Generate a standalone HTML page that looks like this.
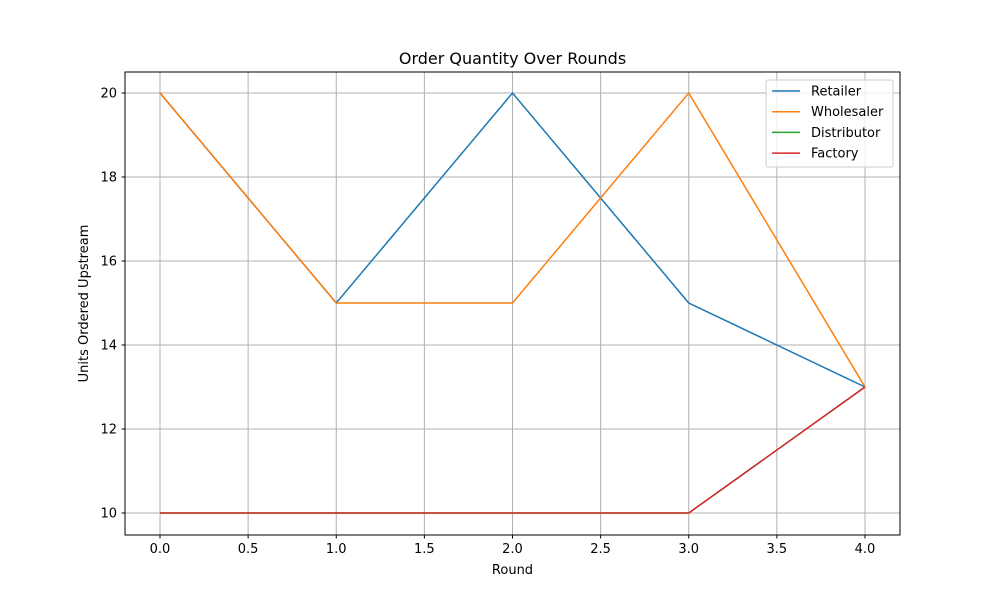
<!DOCTYPE html>
<html><head><meta charset="utf-8"><style>
body{margin:0;background:#fff;}
svg text{font-family:"DejaVu Sans","Liberation Sans",sans-serif;fill:#000;}
</style></head><body>
<svg width="1000" height="600" xmlns="http://www.w3.org/2000/svg">
<rect width="1000" height="600" fill="#fff"/>
<text x="512.5" y="64" font-size="16" text-anchor="middle">Order Quantity Over Rounds</text>
<g id="grid"></g>
<g id="series"></g>
<rect x="125" y="72" width="775" height="463" fill="none" stroke="#000" stroke-width="1"/>
<g id="ticks"></g>
<text x="512.5" y="574" font-size="13" text-anchor="middle">Round</text>
<text transform="translate(88,303.5) rotate(-90)" font-size="13" text-anchor="middle">Units Ordered Upstream</text>
<g id="legend"></g>
</svg>
<script>
const rounds=[0,1,2,3,4];
const seriesNames=["Retailer","Wholesaler","Distributor","Factory"];
const retailer=[20,15,20,15,13];
const wholesaler=[20,15,15,20,13];
const distributor=[10,10,10,10,13];
const factory=[10,10,10,10,13];
const xTicks=[0,0.5,1,1.5,2,2.5,3,3.5,4];
const yTicks=[10,12,14,16,18,20];
const colors=["#1f77b4","#ff7f0e","#2ca02c","#d62728"];
const NS="http://www.w3.org/2000/svg";
const xs=v=>160+v*176.25;
const ys=v=>513-(v-10)*42;
function mk(t,a,p){const e=document.createElementNS(NS,t);for(const k in a)e.setAttribute(k,a[k]);p.appendChild(e);return e;}
const grid=document.getElementById('grid'),ticks=document.getElementById('ticks');
xTicks.forEach(v=>{
 const g=mk('line',{x1:xs(v),x2:xs(v),y1:72,y2:535,stroke:'#b0b0b0','stroke-width':1},grid);
 
 
 mk('line',{x1:xs(v),x2:xs(v),y1:535,y2:538.5,stroke:'#000'},ticks);
 const t=mk('text',{x:xs(v),y:553,'font-size':13,'text-anchor':'middle'},ticks);t.textContent=v.toFixed(1);
 
 
});
yTicks.forEach(v=>{
 const g=mk('line',{x1:125,x2:900,y1:ys(v),y2:ys(v),stroke:'#b0b0b0','stroke-width':1},grid);
 
 
 mk('line',{x1:121.5,x2:125,y1:ys(v),y2:ys(v),stroke:'#000'},ticks);
 const t=mk('text',{x:117,y:ys(v)+4.5,'font-size':13,'text-anchor':'end'},ticks);t.textContent=v;
 
 
});
const data=[retailer,wholesaler,distributor,factory];
const sg=document.getElementById('series');
data.forEach((d,i)=>{
 const p=mk('polyline',{points:d.map((v,j)=>xs(rounds[j])+','+ys(v)).join(' '),fill:'none',stroke:colors[i],'stroke-width':1.5},sg);
 
 
});
const lg=document.getElementById('legend');
const box=mk('rect',{x:766,y:80,width:127,height:87,fill:'#fff','fill-opacity':0.8,stroke:'#ccc',rx:2},lg);


seriesNames.forEach((n,i)=>{
 const y=91+i*20.7;
 mk('line',{x1:772,x2:800,y1:y,y2:y,stroke:colors[i],'stroke-width':1.5},lg);
 const t=mk('text',{x:811,y:y+4.5,'font-size':13},lg);t.textContent=n;
 
 
});
</script>
</body></html>
